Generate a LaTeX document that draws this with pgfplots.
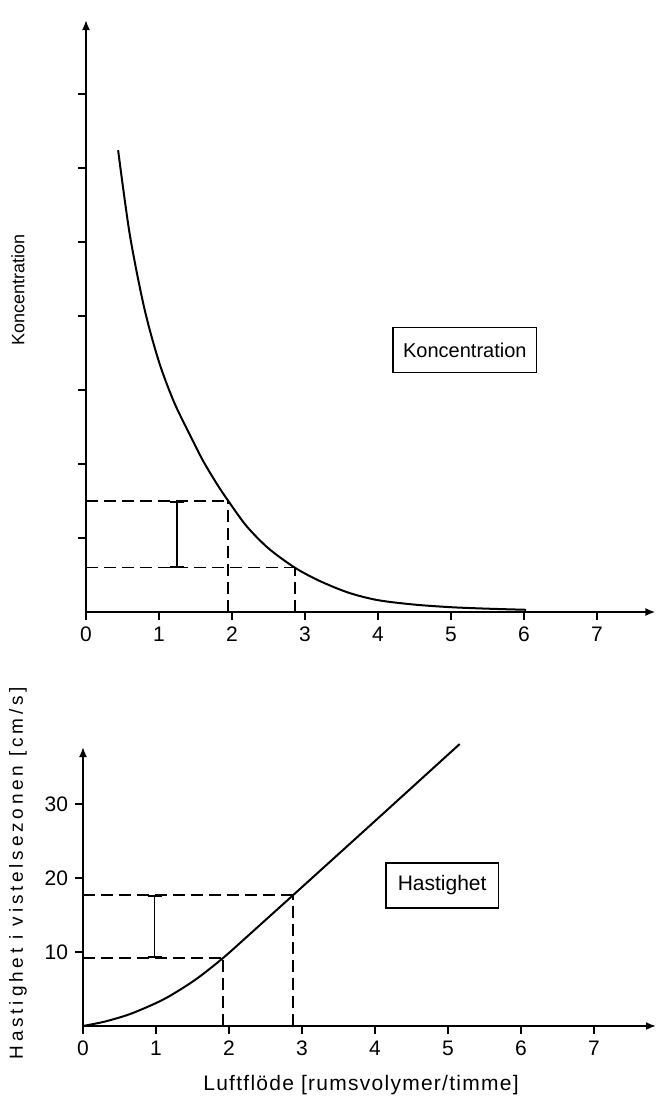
\documentclass[border=0pt]{standalone}
\usepackage{fontspec}
\setmainfont{Liberation Sans}
\usepackage{pgfplots}
\pgfplotsset{compat=1.18}
\usetikzlibrary{arrows.meta}

\pgfplotsset{
  myaxis/.style={
    scale only axis,
    axis lines=left,
    axis line style={line width=0.9pt, -{Latex[length=5pt,width=4pt]}},
    tick align=outside,
    major tick length=4pt,
    tick style={line width=0.8pt, black},
    /pgf/number format/assume math mode=true,
    ticklabel style={font=\fontsize{10.5}{12}\selectfont},
    clip=false,
  },
  guide/.style={line width=0.85pt, dash pattern=on 6pt off 3pt},
  ibar/.style={line width=0.9pt, {Bar[width=7pt]}-{Bar[width=7pt]}},
  curve/.style={line width=1pt, smooth, no marks},
}

\begin{document}
\begin{tikzpicture}
\useasboundingbox (0pt,0pt) rectangle (329.5pt,-552.5pt);

% ---------------- top panel: Koncentration ----------------
\begin{axis}[
  myaxis,
  at={(43pt,-306pt)}, anchor=south west,
  width=284.7pt, height=296pt,
  xmin=0, xmax=7.8, ymin=0, ymax=8,
  xtick={0,...,7},
  ytick={1,...,7}, yticklabels={},
]
\addplot[curve] coordinates {
  (0.44,6.24) (0.6,5.1) (0.8,4.1) (1.0,3.38) (1.2,2.85) (1.4,2.44)
  (1.6,2.05) (1.8,1.72) (1.95,1.5) (2.2,1.16) (2.5,0.86) (2.86,0.6)
  (3.2,0.42) (3.6,0.26) (4.0,0.16) (4.5,0.1) (5.0,0.065) (5.5,0.045) (6.03,0.03)
};
\addplot[guide] coordinates {(0,1.5) (1.95,1.5)};
\addplot[guide] coordinates {(1.95,0) (1.95,1.5)};
\addplot[guide] coordinates {(0,0.6) (2.86,0.6)};
\addplot[guide] coordinates {(2.86,0) (2.86,0.6)};
\addplot[ibar] coordinates {(1.25,0.6) (1.25,1.5)};
\node[draw, line width=0.8pt, font=\fontsize{10}{12}\selectfont,
      inner xsep=5pt, minimum height=22.5pt] at (axis cs:5.19,3.54) {Koncentration};
\end{axis}

% ---------------- bottom panel: Hastighet ----------------
\begin{axis}[
  myaxis,
  at={(41.5pt,-513pt)}, anchor=south west,
  width=286.5pt, height=139.5pt,
  xmin=0, xmax=7.85, ymin=0, ymax=37.7,
  xtick={0,...,7},
  ytick={10,20,30},
]
\addplot[curve] coordinates {
  (0,0) (0.3,0.6) (0.64,1.6) (1.0,3.1) (1.23,4.3) (1.56,6.4) (1.92,9.2)
  (2.25,12.1) (2.88,17.7) (4.0,27.7) (5.16,38.1)
};
\addplot[guide] coordinates {(0,9.2) (1.92,9.2)};
\addplot[guide] coordinates {(1.92,0) (1.92,9.2)};
\addplot[guide] coordinates {(0,17.7) (2.88,17.7)};
\addplot[guide] coordinates {(2.88,0) (2.88,17.7)};
\addplot[ibar] coordinates {(0.98,9.2) (0.98,17.7)};
\node[draw, line width=0.8pt, font=\fontsize{10.5}{12}\selectfont,
      inner xsep=6pt, minimum height=22.5pt] at (axis cs:4.92,19.0) {Hastighet};
\end{axis}

% ---------------- axis titles ----------------
\node[rotate=90, font=\fontsize{9}{10}\selectfont] at (9pt,-145pt) {Koncentration};
\node[rotate=90, font=\fontsize{9.5}{11}\selectfont\addfontfeature{LetterSpace=20}]
  at (9pt,-436.5pt) {Hastighet i vistelsezonen [cm/s]};
\node[font=\fontsize{10.5}{12}\selectfont\addfontfeature{LetterSpace=6}]
  at (180.5pt,-542.5pt) {Luftflöde [rumsvolymer/timme]};
\end{tikzpicture}
\end{document}
